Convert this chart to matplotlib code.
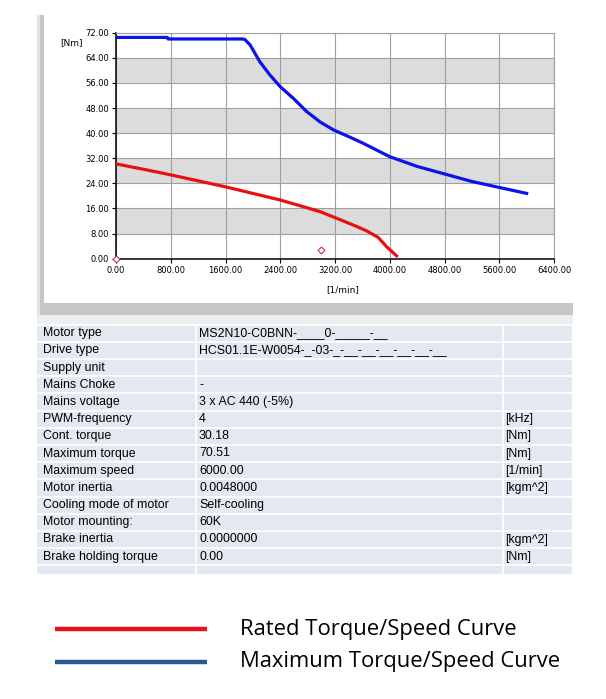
import matplotlib
matplotlib.use("Agg")
import matplotlib.pyplot as plt
from matplotlib.patches import Rectangle
import numpy as np

# torque / speed curves
max_rpm = [0, 750, 760, 1850, 1885, 1960, 2100, 2250, 2400, 2590, 2790, 2980, 3180,
           3420, 3600, 4000, 4400, 4800, 5200, 5600, 6000]
max_torque = [70.5, 70.5, 70.0, 70.0, 69.8, 68.1, 62.8, 58.5, 54.8, 51.1, 46.8, 43.6, 41.0,
              38.7, 36.9, 32.5, 29.4, 27.0, 24.6, 22.7, 20.8]
rated_rpm = [0, 400, 800, 1200, 1600, 2000, 2400, 2700, 2980, 3200, 3470, 3660, 3830,
             3955, 4100]
rated_torque = [30.2, 28.5, 26.7, 24.8, 22.9, 20.8, 18.7, 16.8, 15.0, 13.1, 10.7, 8.9, 6.8,
                3.8, 0.9]
point_rpm = [0, 2990]
point_torque = [0, 2.8]

x_ticks = [0, 800, 1600, 2400, 3200, 4000, 4800, 5600, 6400]
y_ticks = [0, 8, 16, 24, 32, 40, 48, 56, 64, 72]
bands = [(8, 16), (24, 32), (40, 48), (56, 64)]

# data sheet under the chart
row_names = ["Motor type", "Drive type", "Supply unit", "Mains Choke", "Mains voltage",
             "PWM-frequency", "Cont. torque", "Maximum torque", "Maximum speed",
             "Motor inertia", "Cooling mode of motor", "Motor mounting:",
             "Brake inertia", "Brake holding torque"]
row_values = ["MS2N10-C0BNN-____0-_____-__", "HCS01.1E-W0054-_-03-_-__-__-__-__-__-__",
              "", "-", "3 x AC 440 (-5%)", "4", "30.18", "70.51", "6000.00",
              "0.0048000", "Self-cooling", "60K", "0.0000000", "0.00"]
row_units = ["", "", "", "", "", "[kHz]", "[Nm]", "[Nm]", "[1/min]", "[kgm^2]",
             "", "", "[kgm^2]", "[Nm]"]

legend_labels = ["Rated Torque/Speed Curve", "Maximum Torque/Speed Curve"]
legend_colors = ["#e8141c", "#2f5597"]

W, H = 606, 699
fig = plt.figure(figsize=(W / 100, H / 100), dpi=100)

# full-figure pixel axes for frame, table and legend
bg = fig.add_axes([0, 0, 1, 1], zorder=0)
bg.set_xlim(0, W)
bg.set_ylim(H, 0)
bg.axis("off")

# grey window frame round the chart
bg.add_patch(Rectangle((37, 15), 3, 300, color="#e4e4e4", lw=0))
bg.add_patch(Rectangle((40, 15), 4, 300, color="#c6c6c6", lw=0))
bg.add_patch(Rectangle((40, 303), 533, 12, color="#c6c6c6", lw=0))
bg.add_patch(Rectangle((37, 315), 536, 10, color="#eceef2", lw=0))

# table
top = 324.5
rh = 17.2
n = len(row_names)
bg.add_patch(Rectangle((37, top), 535, rh * n + 9, color="#e4e8f0", lw=0))
for i in range(n + 1):
    bg.plot([37, 572], [top + i * rh] * 2, color="white", lw=1.2)
for xc in [196, 503]:
    bg.plot([xc, xc], [top, top + rh * n + 9], color="white", lw=1.2)
for i in range(n):
    yc = top + (i + 0.5) * rh
    bg.text(43, yc, row_names[i], fontsize=8.9, family="Liberation Sans", va="center")
    bg.text(199, yc, row_values[i], fontsize=8.9, family="Liberation Sans", va="center")
    bg.text(505, yc, row_units[i], fontsize=8.9, family="Liberation Sans", va="center")

# legend below
for i, (lab, col) in enumerate(zip(legend_labels, legend_colors)):
    yc = 629 + i * 33
    bg.plot([55, 207], [yc, yc], color=col, lw=3.2, solid_capstyle="butt")
    bg.text(240, yc, lab, fontsize=15.8, family="Open Sans", va="center")

# chart
ax = fig.add_axes([116 / W, 1 - 258.7 / H, (554 - 116) / W, (258.7 - 32.7) / H], zorder=2)
for lo, hi in bands:
    ax.axhspan(lo, hi, color="#dcdcdc", lw=0, zorder=0)
ax.set_xlim(0, 6400)
ax.set_ylim(0, 72)
ax.set_xticks(x_ticks)
ax.set_yticks(y_ticks)
ax.set_xticklabels(["%.2f" % v for v in x_ticks])
ax.set_yticklabels(["%.2f" % v for v in y_ticks])
ax.tick_params(labelsize=6, length=3, width=0.8, pad=2)
ax.grid(True, color="#a0a0a0", lw=0.8, zorder=1)
ax.set_axisbelow(True)
for s in ["top", "right"]:
    ax.spines[s].set_color("#a0a0a0")
for s in ["left", "bottom"]:
    ax.spines[s].set_color("black")
    ax.spines[s].set_linewidth(1.1)

ax.plot(max_rpm, max_torque, color="#0c12e8", lw=2.3, zorder=3)
ax.plot(rated_rpm, rated_torque, color="#e81010", lw=2.3, zorder=3)
ax.plot(point_rpm, point_torque, ls="none", marker="D", ms=3.5, mfc="white",
        mec="#c0306a", mew=0.8, zorder=4, clip_on=False)

fig.text(60 / W, 1 - 43 / H, "[Nm]", fontsize=6.5, va="center")
fig.text(343 / W, 1 - 290 / H, "[1/min]", fontsize=6.5, va="center", ha="center")

fig.savefig("out.png", dpi=100)
